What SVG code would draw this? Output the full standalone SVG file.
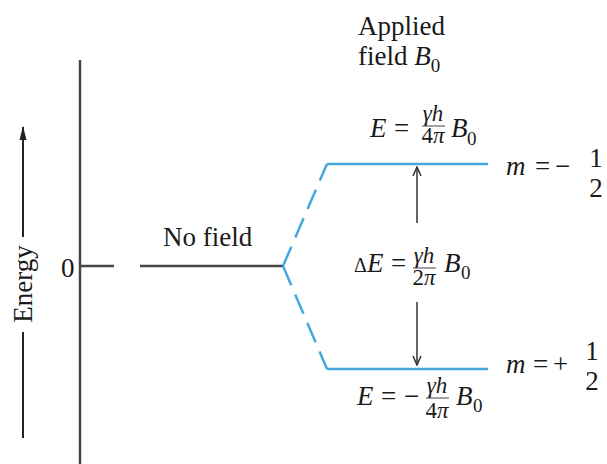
<svg xmlns="http://www.w3.org/2000/svg" width="607" height="464" viewBox="0 0 607 464">
<style>
text{font-family:"Liberation Serif","Times New Roman",serif;fill:#1a1a1a}
.t{font-size:27px}
.it{font-style:italic}
.fr{font-size:23px}
.sub{font-size:19px}
.half{font-size:27px}
.blk{stroke:#454545;stroke-width:2.5;fill:none}
.blue{stroke:#45a8dc;stroke-width:2.5;fill:none}
.thin{stroke:#333;stroke-width:1.5;fill:none}
.bar{stroke:#444;stroke-width:1}
</style>
<defs>
<marker id="open" viewBox="0 0 10 10" refX="9" refY="5" markerWidth="10" markerHeight="10" markerUnits="userSpaceOnUse" orient="auto">
<path d="M0,1 L9,5 L0,9" fill="none" stroke="#333" stroke-width="1.5"/>
</marker>
<marker id="solid" viewBox="0 0 14 8" refX="13" refY="4" markerWidth="14" markerHeight="8" markerUnits="userSpaceOnUse" orient="auto">
<path d="M0,0.5 L14,4 L0,7.5 z" fill="#222"/>
</marker>
</defs>

<g id="axis">
<line x1="80" y1="60" x2="80" y2="464" class="blk"/>
<text class="t" x="61" y="277">0</text>
</g>

<g id="energy">
<line x1="23" y1="438" x2="23" y2="332" stroke="#222" stroke-width="2"/>
<line x1="23" y1="237" x2="23" y2="127" stroke="#222" stroke-width="2" marker-end="url(#solid)"/>
<text class="t" transform="translate(32,284) rotate(-90)" text-anchor="middle" font-size="28">Energy</text>
</g>

<g id="no-field">
<line x1="80" y1="266" x2="114" y2="266" class="blk"/>
<line x1="140" y1="266" x2="283" y2="266" class="blk"/>
<text class="t" x="163" y="246">No field</text>
</g>

<g id="applied-label">
<text class="t" x="358" y="35">Applied</text>
<text class="t" x="358" y="65">field <tspan class="it">B</tspan><tspan class="sub" dy="7">0</tspan></text>
</g>

<g id="upper-level">
<line x1="327" y1="164" x2="488" y2="164" class="blue"/>
<text class="t it" x="370" y="137">E</text>
<text class="t" x="394" y="137">=</text>
<text class="fr it" x="433" y="121" text-anchor="middle">γh</text>
<line x1="422" y1="126" x2="445" y2="126" class="bar"/>
<text class="fr" x="433" y="143" text-anchor="middle">4<tspan class="it">π</tspan></text>
<text class="t it" x="451" y="137">B</text>
<text class="sub" x="467" y="145">0</text>
<text class="t it" x="506" y="175">m</text>
<text class="t" x="535" y="175">=</text>
<text class="t" x="555" y="175">−</text>
<text class="half" x="596" y="167" text-anchor="middle">1</text>
<text class="half" x="596" y="197" text-anchor="middle">2</text>
</g>

<g id="lower-level">
<line x1="327" y1="369" x2="488" y2="369" class="blue"/>
<text class="t it" x="357" y="405">E</text>
<text class="t" x="381" y="405">=</text>
<text class="t" x="404" y="405">−</text>
<text class="fr it" x="437" y="393" text-anchor="middle">γh</text>
<line x1="426" y1="398" x2="449" y2="398" class="bar"/>
<text class="fr" x="437" y="418" text-anchor="middle">4<tspan class="it">π</tspan></text>
<text class="t it" x="456" y="405">B</text>
<text class="sub" x="473" y="412">0</text>
<text class="t it" x="506" y="373">m</text>
<text class="t" x="533" y="373">=</text>
<text class="t" x="553" y="373">+</text>
<text class="half" x="592" y="360" text-anchor="middle">1</text>
<text class="half" x="592" y="390" text-anchor="middle">2</text>
</g>

<g id="delta-label">
<text x="354" y="272"><tspan font-size="20">Δ</tspan><tspan class="t it">E</tspan></text>
<text class="t" x="391" y="272">=</text>
<text class="fr it" x="424" y="263" text-anchor="middle">γh</text>
<line x1="413" y1="268" x2="436" y2="268" class="bar"/>
<text class="fr" x="424" y="285" text-anchor="middle">2<tspan class="it">π</tspan></text>
<text class="t it" x="444" y="272">B</text>
<text class="sub" x="461" y="279">0</text>
</g>

<g id="connectors">
<path d="M283,266 L327,164" class="blue" stroke-dasharray="21 10"/>
<path d="M283,266 L327,369" class="blue" stroke-dasharray="21 10"/>
<line x1="417" y1="223" x2="417" y2="167" class="thin" marker-end="url(#open)"/>
<line x1="417" y1="302" x2="417" y2="365" class="thin" marker-end="url(#open)"/>
</g>
</svg>
